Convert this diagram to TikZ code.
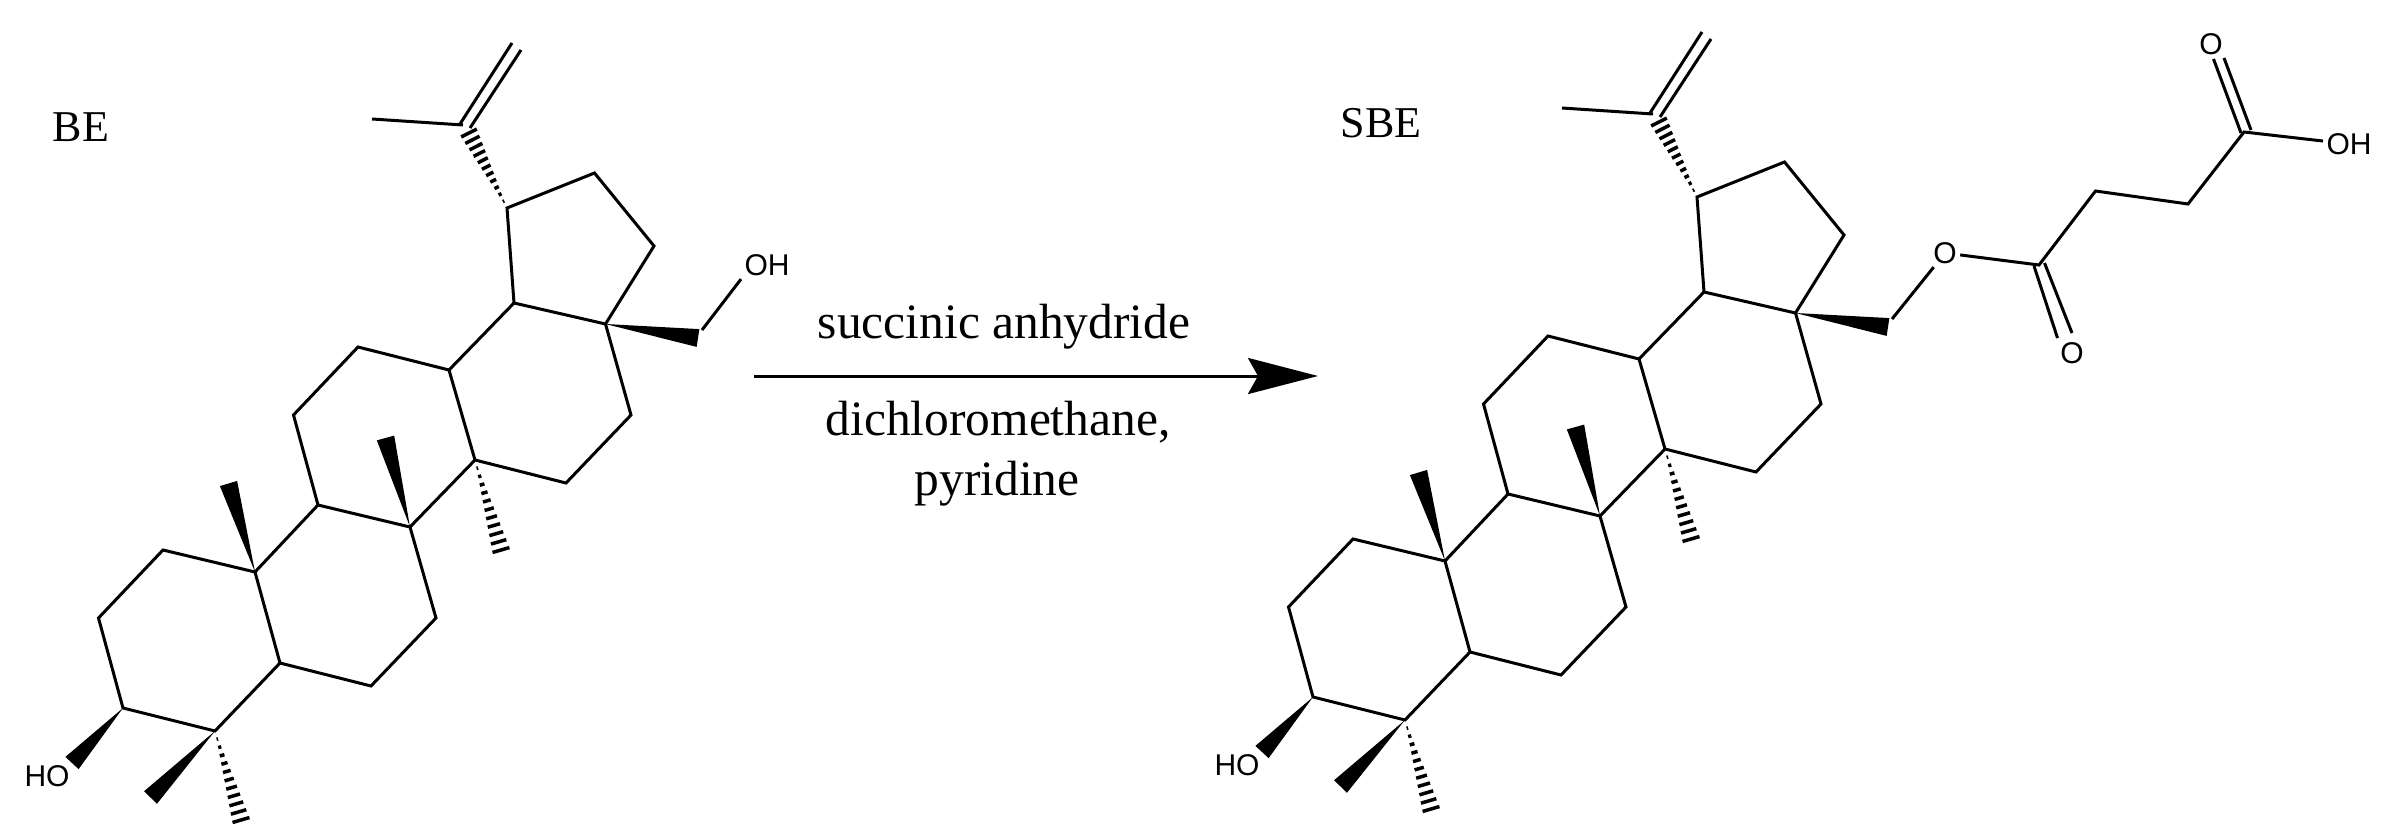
\documentclass[tikz,border=0pt]{standalone}
\usepackage{fontspec}
\setmainfont{Liberation Serif}
\newfontfamily\atomfont{Liberation Sans}
\usetikzlibrary{arrows.meta,calc}

\tikzset{
  wedgebond/.style={fill=black,draw=none},
  hashbond/.style={line width=3.5pt},
  atom/.style={font=\atomfont\fontsize{30}{30}\selectfont,inner sep=2pt},
  title/.style={font=\fontsize{44}{44}\selectfont,anchor=base,inner sep=0pt},
  reagent/.style={font=\fontsize{49.5}{50}\selectfont,anchor=base,inner sep=0pt},
}

% solid wedge, thin at #1
\newcommand{\solidwedge}[2]{%
  \fill[wedgebond] (#1) -- ($(#2)!9pt!90:(#1)$) -- ($(#2)!9pt!-90:(#1)$) -- cycle;}
% hashed wedge, thin at #1
\newcommand{\hashwedge}[2]{%
  \foreach \i in {1,...,11} {
    \pgfmathsetmacro{\w}{0.8*\i}
    \draw[hashbond] ($(#1)!\i/11!(#2)!\w pt!90:(#1)$) -- ($(#1)!\i/11!(#2)!\w pt!-90:(#1)$);
  }}
% the ring skeleton, drawn once per molecule
\newcommand{\skeleton}{%
  \coordinate (c1) at (98.5,618);
  \coordinate (c2) at (123,708);
  \coordinate (c3) at (215,731);
  \coordinate (c4) at (280,663);
  \coordinate (c5) at (255,572);
  \coordinate (c6) at (163,550);
  \coordinate (c7) at (371,686);
  \coordinate (c8) at (436,618);
  \coordinate (c9) at (410,527);
  \coordinate (c10) at (318,505);
  \coordinate (c11) at (293.5,415);
  \coordinate (c12) at (358,347);
  \coordinate (c13) at (449,370);
  \coordinate (c14) at (475,460);
  \coordinate (c15) at (566,483);
  \coordinate (c16) at (631,415);
  \coordinate (c17) at (605.5,324);
  \coordinate (c18) at (514,303);
  \coordinate (c19) at (507,208);
  \coordinate (c20) at (594.5,173);
  \coordinate (c21) at (654,246);
  \coordinate (ch2) at (702,330);
  \coordinate (ch2w) at (698,338);
  \coordinate (vin) at (463,125);
  \coordinate (vinh) at (469,133);
  \coordinate (me) at (372,119);
  \coordinate (da) at (460,124);
  \coordinate (db) at (512,43);
  \coordinate (dc) at (470,128);
  \coordinate (dd) at (521,50);
  \coordinate (mea) at (228.5,483.5);
  \coordinate (meb) at (385.5,438);
  \coordinate (mec) at (501,550);
  \coordinate (med) at (150.5,797.5);
  \coordinate (mee) at (241,820);
  \coordinate (hoend) at (72,763);
  \draw (c5) -- (c6) -- (c1) -- (c2) -- (c3) -- (c4) -- cycle;
  \draw (c4) -- (c7) -- (c8) -- (c9) -- (c10) -- (c5);
  \draw (c10) -- (c11) -- (c12) -- (c13) -- (c14) -- (c9);
  \draw (c14) -- (c15) -- (c16) -- (c17) -- (c18) -- (c13);
  \draw (c17) -- (c21) -- (c20) -- (c19) -- (c18);
  \draw (me) -- (vin);
  \draw (da) -- (db);
  \draw (dc) -- (dd);
  \solidwedge{c5}{mea}
  \solidwedge{c9}{meb}
  \solidwedge{c17}{ch2w}
  \solidwedge{c2}{hoend}
  \solidwedge{c3}{med}
  \hashwedge{c19}{vinh}
  \hashwedge{c14}{mec}
  \hashwedge{c3}{mee}
  \node[atom] (ho) at (47,776) {HO};
}

\begin{document}
\begin{tikzpicture}[x=1pt,y=-1pt,line width=3pt]
  \useasboundingbox (0,0) rectangle (2384,840);

  % BE
  \begin{scope}[name prefix=b-]
    \skeleton
    \node[atom] (oh) at (767,265) {OH};
    \draw (ch2) -- (oh.south west);
  \end{scope}
  \node[title] (be) at (81,142) {BE};

  % arrow
  \coordinate (arrowa) at (754,376);
  \coordinate (arrowb) at (1318,376);
  \draw[-{Stealth[length=70pt,width=36pt,inset=10pt]}] (arrowa) -- (arrowb);
  \node[reagent] (anhydride) at (1004,338) {succinic anhydride};
  \node[reagent] (solvent) at (998,435) {dichloromethane,};
  \node[reagent] (pyridine) at (997,495) {pyridine};

  % SBE
  \begin{scope}[shift={(1190,-11)},name prefix=s-]
    \skeleton
  \end{scope}
  \node[title] (sbe) at (1381,137) {SBE};

  % succinate chain
  \node[atom] (oester) at (1945,253) {O};
  \node[atom] (ocarbonyl) at (2072,353) {O};
  \node[atom] (oacid) at (2211,44) {O};
  \node[atom] (ohacid) at (2349,144) {OH};
  \coordinate (ca) at (2039,265);
  \coordinate (cb) at (2095.5,191);
  \coordinate (cc) at (2188,204);
  \coordinate (cd) at (2244,132);
  \coordinate (ea) at (2034,266);
  \coordinate (eb) at (2057.5,338);
  \coordinate (ec) at (2044.5,263);
  \coordinate (ed) at (2072,333);
  \coordinate (fa) at (2241,133);
  \coordinate (fb) at (2213.5,59);
  \coordinate (fc) at (2251,130);
  \coordinate (fd) at (2224,58);
  \draw (s-ch2) -- (oester);
  \draw (oester) -- (ca) -- (cb) -- (cc) -- (cd) -- (ohacid);
  \draw (ea) -- (eb);
  \draw (ec) -- (ed);
  \draw (fa) -- (fb);
  \draw (fc) -- (fd);
\end{tikzpicture}
\end{document}
